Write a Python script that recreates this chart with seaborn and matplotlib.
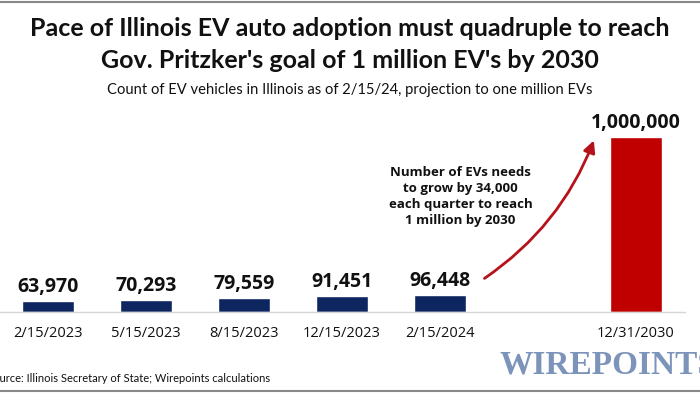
import matplotlib
matplotlib.use("Agg")
import matplotlib.pyplot as plt
from matplotlib.lines import Line2D
from matplotlib.ticker import FixedLocator
import seaborn as sns
import pandas as pd

# data
dates = ["2/15/2023", "5/15/2023", "8/15/2023", "12/15/2023", "2/15/2024", "12/31/2030"]
ev_counts = [63970, 70293, 79559, 91451, 96448, 1000000]
bar_colors = ["#0E2660", "#0E2660", "#0E2660", "#0E2660", "#0E2660", "#C00000"]
# empty slot between the last count and the 2030 goal
order = dates[:5] + [" "] + dates[5:]

title_lines = ["Pace of Illinois EV auto adoption must quadruple to reach",
               "Gov. Pritzker's goal of 1 million EV's by 2030"]
subtitle = "Count of EV vehicles in Illinois as of 2/15/24, projection to one million EVs"
note = "Number of EVs needs\nto grow by 34,000\neach quarter to reach\n1 million by 2030"
source = "Source: Illinois Secretary of State; Wirepoints calculations"

sns.set_style("white")
plt.rcParams["font.family"] = ["Open Sans", "DejaVu Sans"]

df = pd.DataFrame({"date": dates, "count": ev_counts})

fig = plt.figure(figsize=(7, 3.94), dpi=100)
ax = fig.add_axes([-1 / 700, 82 / 394, 686 / 700, 210 / 394])

sns.barplot(data=df, x="date", y="count", hue="date", order=order,
            palette=dict(zip(dates, bar_colors)), width=0.54,
            saturation=1, legend=False, ax=ax)

ax.set_xlim(-0.5, 6.5)
ax.set_ylim(0, 1.2e6)

for cont in ax.containers:
    ax.bar_label(cont, labels=[f"{v:,.0f}" for v in cont.datavalues],
                 padding=3, fontsize=14, fontweight="bold", color="#111111")

# axis styling
for side in ["top", "left", "right"]:
    ax.spines[side].set_visible(False)
ax.spines["bottom"].set_color("#D6D6D6")
ax.spines["bottom"].set_linewidth(1)
ax.set_yticks([])
ax.set_xlabel("")
ax.set_ylabel("")
ax.set_xticks(range(len(order)))
ax.set_xticklabels(order, fontsize=10.5, color="#111111")
ax.tick_params(axis="x", which="major", length=0, pad=10)
ax.xaxis.set_minor_locator(FixedLocator([i + 0.5 for i in range(-1, 7)]))
ax.tick_params(axis="x", which="minor", length=5, width=1, color="#D6D6D6")

# arrow + note
ax.annotate("", xy=(5.58, 9.95e5), xytext=(4.43, 1.83e5),
            arrowprops=dict(arrowstyle="-|>,head_length=0.7,head_width=0.35",
                            color="#B5121B", lw=2,
                            connectionstyle="arc3,rad=0.16"))
ax.text(4.21, 6.6e5, note, ha="center", va="center", multialignment="center",
        fontsize=9.5, fontweight="bold", color="#111111", linespacing=1.3)

# titles
fig.text(0.5, 1 - 29 / 394, title_lines[0], ha="center", va="center",
         fontsize=18, fontweight="bold", family=["Lato", "DejaVu Sans"], color="#111111")
fig.text(0.5, 1 - 60 / 394, title_lines[1], ha="center", va="center",
         fontsize=18, fontweight="bold", family=["Lato", "DejaVu Sans"], color="#111111")
fig.text(0.5, 1 - 90 / 394, subtitle, ha="center", va="center",
         fontsize=10.6, family=["Lato", "DejaVu Sans"], color="#111111")

# footer
fig.text(-13 / 700, 1 - 378 / 394, source, ha="left", va="center",
         fontsize=8, family=["Lato", "DejaVu Sans"], color="#111111")
fig.text(500 / 700, 1 - 365 / 394, "WIREPOINTS", ha="left", va="center",
         fontsize=24, fontweight="bold", family=["Liberation Serif", "DejaVu Serif"],
         color="#7C93BA")

# frame lines top and bottom
fig.add_artist(Line2D([0, 1], [1 - 2 / 394, 1 - 2 / 394], color="#888888", lw=1.5))
fig.add_artist(Line2D([0, 1], [3 / 394, 3 / 394], color="#888888", lw=1.5))

plt.savefig("out.png", dpi=100)
